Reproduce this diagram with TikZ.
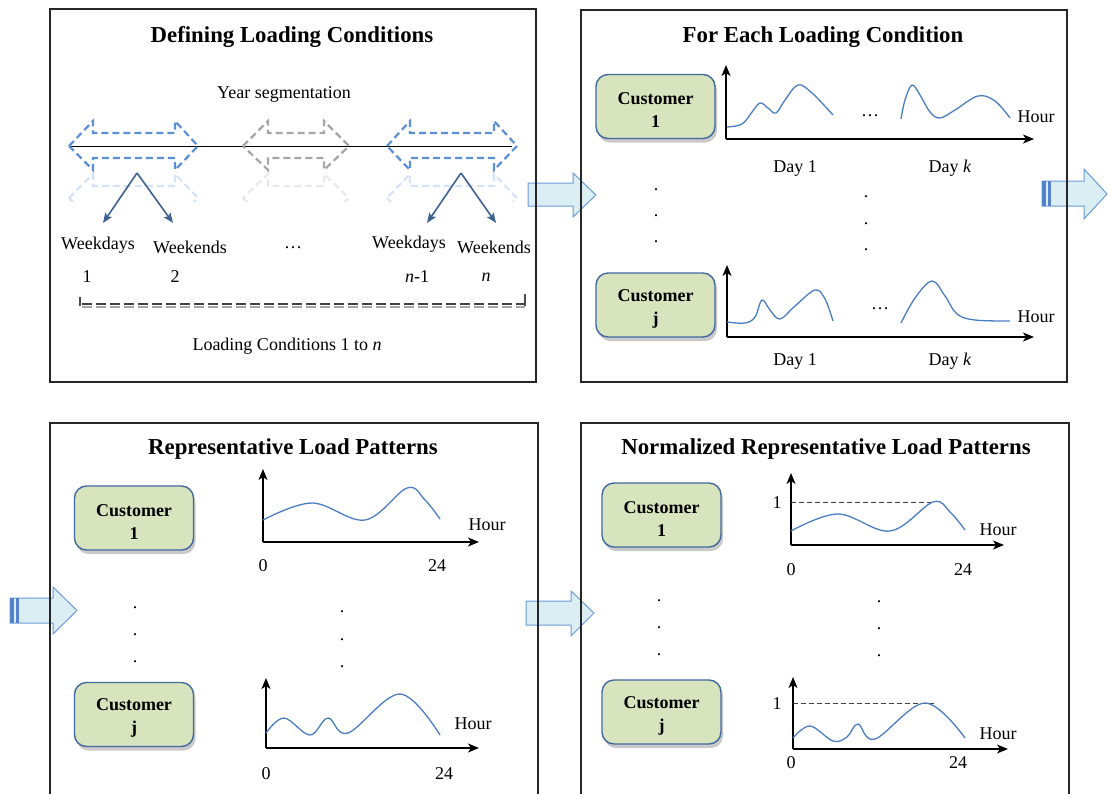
\documentclass[tikz,border=0pt]{standalone}
\usepackage{fontspec}
\setmainfont{Liberation Serif}
\usetikzlibrary{arrows.meta,shadows}
\definecolor{curveblue}{RGB}{74,126,193}
\definecolor{dashblue}{RGB}{91,143,214}
\definecolor{dashgray}{RGB}{166,166,166}
\definecolor{solidblue}{RGB}{62,98,145}
\definecolor{boxfill}{RGB}{215,228,189}
\definecolor{boxborder}{RGB}{65,105,160}
\definecolor{bigfill}{RGB}{218,238,243}
\definecolor{bigdraw}{RGB}{108,155,217}
\definecolor{stripe}{RGB}{84,130,205}
\newcommand{\mydblarrow}[5]{%
  \draw[dasharr, draw=#1] (#2,146) -- (#3,121) -- (#3,133) -- (#4,133) -- (#4,121) -- (#5,146) -- (#4,170) -- (#4,158) -- (#3,158) -- (#3,170) -- cycle;
  \begin{scope}
    \clip (0,172) rectangle (1108,201);
    \draw[dasharr, draw=#1, opacity=0.25] (#2,198) -- (#3,223) -- (#3,211) -- (#4,211) -- (#4,223) -- (#5,198) -- (#4,174) -- (#4,186) -- (#3,186) -- (#3,174) -- cycle;
  \end{scope}}
\begin{document}
\begin{tikzpicture}[x=1pt,y=-1pt,
  every node/.style={font=\fontsize{18}{20}\selectfont, inner sep=1pt, yshift=-2pt},
  ttl/.style={font=\fontsize{22.8}{24}\selectfont\bfseries},
  panel/.style={draw=black!85, line width=1.5pt},
  cust/.style={yshift=2pt, draw=boxborder, line width=1.4pt, fill=boxfill, rounded corners=12pt,
    minimum width=119pt, minimum height=64pt, align=center, inner sep=2pt,
    font=\fontsize{18}{23}\selectfont\bfseries,
    drop shadow={shadow xshift=2pt, shadow yshift=-4pt, opacity=0.3, fill=black!70}},
  axis/.style={line width=1.6pt, -{Stealth[length=11pt,width=9pt,inset=3pt]}},
  curve/.style={draw=curveblue, line width=1.3pt},
  dasharr/.style={line width=2.2pt, dash pattern=on 7pt off 4pt},
  solidarr/.style={draw=solidblue, line width=1.6pt, -{Stealth[length=10pt,width=8pt,inset=2pt]}},
  bigarr/.style={fill=bigfill, draw=bigdraw, line width=1pt},
  dotn/.style={anchor=base},
  normdash/.style={line width=0.9pt, draw=black!75, dash pattern=on 5pt off 3pt}]
\useasboundingbox (0,0) rectangle (1108,793);
\clip (0,0) rectangle (1108,793);

% ---------- big arrows (under panel borders) ----------
\draw[bigarr] (528,183) -- (573,183) -- (573,173) -- (596,195) -- (573,217) -- (573,206) -- (528,206) -- cycle;
\draw[bigarr] (1042,181) -- (1084,181) -- (1084,169) -- (1107,194) -- (1084,219) -- (1084,206) -- (1042,206) -- cycle;
\fill[stripe] (1042,181) rectangle (1046,206);
\fill[stripe] (1048,181) rectangle (1051,206);
\draw[bigarr] (10,598) -- (53,598) -- (53,587) -- (77,610.5) -- (53,634) -- (53,623) -- (10,623) -- cycle;
\fill[stripe] (10,598) rectangle (14,623);
\fill[stripe] (16,598) rectangle (19,623);
\draw[bigarr] (526,601) -- (571,601) -- (571,591) -- (594,613) -- (571,636) -- (571,625) -- (526,625) -- cycle;

% ---------- panels ----------
\draw[panel] (50,9) rectangle (536,382);
\draw[panel] (581,10) rectangle (1067,382);
\draw[panel] (50,423) rectangle (538,800);
\draw[panel] (581,423) rectangle (1069,800);

% ---------- panel 1 ----------
\node[ttl] (t1) at (292,35) {Defining Loading Conditions};
\node (yseg) at (284,92) {Year segmentation};
\draw[line width=1pt] (70,146) -- (512,146);
\mydblarrow{dashblue}{69}{93}{175}{198}
\mydblarrow{dashgray}{243}{268}{324}{349}
\mydblarrow{dashblue}{387}{410}{494}{517}

\coordinate (apexA) at (137,171);
\coordinate (apexB) at (461,171);
\coordinate (endA1) at (103,221);
\coordinate (endA2) at (173,221);
\coordinate (endB1) at (427,221);
\coordinate (endB2) at (496,221);
\draw[solidarr] (apexA) -- (endA1);
\draw[solidarr] (apexA) -- (endA2);
\draw[solidarr] (apexB) -- (endB1);
\draw[solidarr] (apexB) -- (endB2);

\node (wd1) at (98,243) {Weekdays};
\node (we1) at (190,245) {Weekends};
\node (dd1) at (293,246) {\ldots};
\node (wd2) at (409,242) {Weekdays};
\node (we2) at (494,245) {Weekends};
\node (n1) at (87,275) {1};
\node (n2) at (175,275) {2};
\node (n3) at (417,275) {\textit{n}-1};
\node (n4) at (486,275) {\textit{n}};

\draw[line width=2.2pt, draw=black!70] (80,297) -- (80,306);
\draw[line width=2pt, draw=black!35, dash pattern=on 10pt off 4pt] (82,306.5) -- (525,306.5);
\draw[line width=2.6pt, draw=black!75, dash pattern=on 10pt off 4pt] (82,304) -- (525,304);
\draw[line width=2.2pt, draw=black!70] (525,306) -- (525,294);
\node (lc) at (287,344) {Loading Conditions 1 to \textit{n}};

% ---------- panel 2 ----------
\node[ttl] (t2) at (823,35) {For Each Loading Condition};
\node[cust] (c21) at (655.5,106.5) {\rule{0pt}{19pt}Customer\\1};
\draw[axis] (726,139) -- (726,65);
\draw[axis] (726,139) -- (1034,139);
\draw[curve] plot[smooth, tension=0.6] coordinates {(727,127) (742,124) (752,112) (760,103) (768,108) (776,113) (785,100) (798,85) (812,93) (833,115)};
\node (dd2) at (870,114) {\ldots};
\draw[curve] plot[smooth, tension=0.6] coordinates {(901,119) (905,100) (912,85) (920,95) (930,112) (940,118) (955,110) (978,96) (995,101) (1010,118)};
\node (h21) at (1036,115) {Hour};
\node (d21) at (795,166) {Day 1};
\node (d22) at (950,166) {Day \textit{k}};
\node[dotn] (v1) at (656,188) {.};
\node[dotn] (v2) at (656,214) {.};
\node[dotn] (v3) at (656,240) {.};
\node[dotn] (v4) at (866,195) {.};
\node[dotn] (v5) at (866,222) {.};
\node[dotn] (v6) at (866,248) {.};
\node[cust] (c2j) at (655.5,305) {\rule{0pt}{19pt}Customer\\j};
\draw[axis] (727,337) -- (727,265);
\draw[axis] (727,337) -- (1034,337);
\draw[curve] plot[smooth, tension=0.6] coordinates {(727,322) (745,323) (755,317) (762,300) (770,310) (780,319) (795,306) (815,290) (825,299) (833,321)};
\node (dd3) at (880,307) {\ldots};
\draw[curve] plot[smooth, tension=0.6] coordinates {(901,323) (915,298) (932,281) (945,296) (957,314) (975,320) (1010,321)};
\node (h22) at (1036,315) {Hour};
\node (d23) at (795,359) {Day 1};
\node (d24) at (950,359) {Day \textit{k}};

% ---------- panel 3 ----------
\node[ttl] (t3) at (293,447) {Representative Load Patterns};
\node[cust] (c31) at (134,518) {\rule{0pt}{19pt}Customer\\1};
\draw[axis] (263,542) -- (263,469);
\draw[axis] (263,542) -- (479,542);
\draw[curve] plot[smooth, tension=0.6] coordinates {(263,520) (312,503) (365,520) (407,488) (425,500) (440,519)};
\node (h31) at (487,523) {Hour};
\node (z31) at (263,564) {0};
\node (f31) at (437,564) {24};
\node[dotn] (v7) at (135,606) {.};
\node[dotn] (v8) at (135,633) {.};
\node[dotn] (v9) at (135,660) {.};
\node[dotn] (v10) at (342,610) {.};
\node[dotn] (v11) at (342,638) {.};
\node[dotn] (v12) at (342,665) {.};
\node[cust] (c3j) at (134,714.5) {\rule{0pt}{19pt}Customer\\j};
\draw[axis] (266,748) -- (266,678);
\draw[axis] (266,748) -- (479,748);
\draw[curve] plot[smooth, tension=0.6] coordinates {(266,733) (284,718) (310,735) (328,718) (348,733) (400,694) (440,735)};
\node (h3j) at (473,722) {Hour};
\node (z3j) at (266,772) {0};
\node (f3j) at (444,772) {24};

% ---------- panel 4 ----------
\node[ttl] (t4) at (826,447) {Normalized Representative Load Patterns};
\node[cust] (c41) at (661.5,515) {\rule{0pt}{19pt}Customer\\1};
\draw[axis] (791,545) -- (791,473);
\draw[axis] (791,545) -- (1004,545);
\draw[normdash] (791,502) -- (933,502);
\node (o41) at (777,501) {1};
\draw[curve] plot[smooth, tension=0.6] coordinates {(791,531) (838,514) (890,531) (933,502) (950,512) (965,530)};
\node (h41) at (998,528) {Hour};
\node (z41) at (791,568) {0};
\node (f41) at (963,568) {24};
\node[dotn] (v13) at (659,599) {.};
\node[dotn] (v14) at (659,626) {.};
\node[dotn] (v15) at (659,653) {.};
\node[dotn] (v16) at (879,600) {.};
\node[dotn] (v17) at (879,627) {.};
\node[dotn] (v18) at (879,654) {.};
\node[cust] (c4j) at (661.5,712) {\rule{0pt}{19pt}Customer\\j};
\draw[axis] (793,749) -- (793,677);
\draw[axis] (793,749) -- (1008,749);
\draw[normdash] (793,703) -- (936,703);
\node (o4j) at (777,702) {1};
\draw[curve] plot[smooth, tension=0.6] coordinates {(793,738) (810,726) (833,741) (847,737) (858,724) (875,739) (925,703) (965,738)};
\node (h4j) at (998,732) {Hour};
\node (z4j) at (791,761) {0};
\node (f4j) at (958,761) {24};
\end{tikzpicture}
\end{document}
